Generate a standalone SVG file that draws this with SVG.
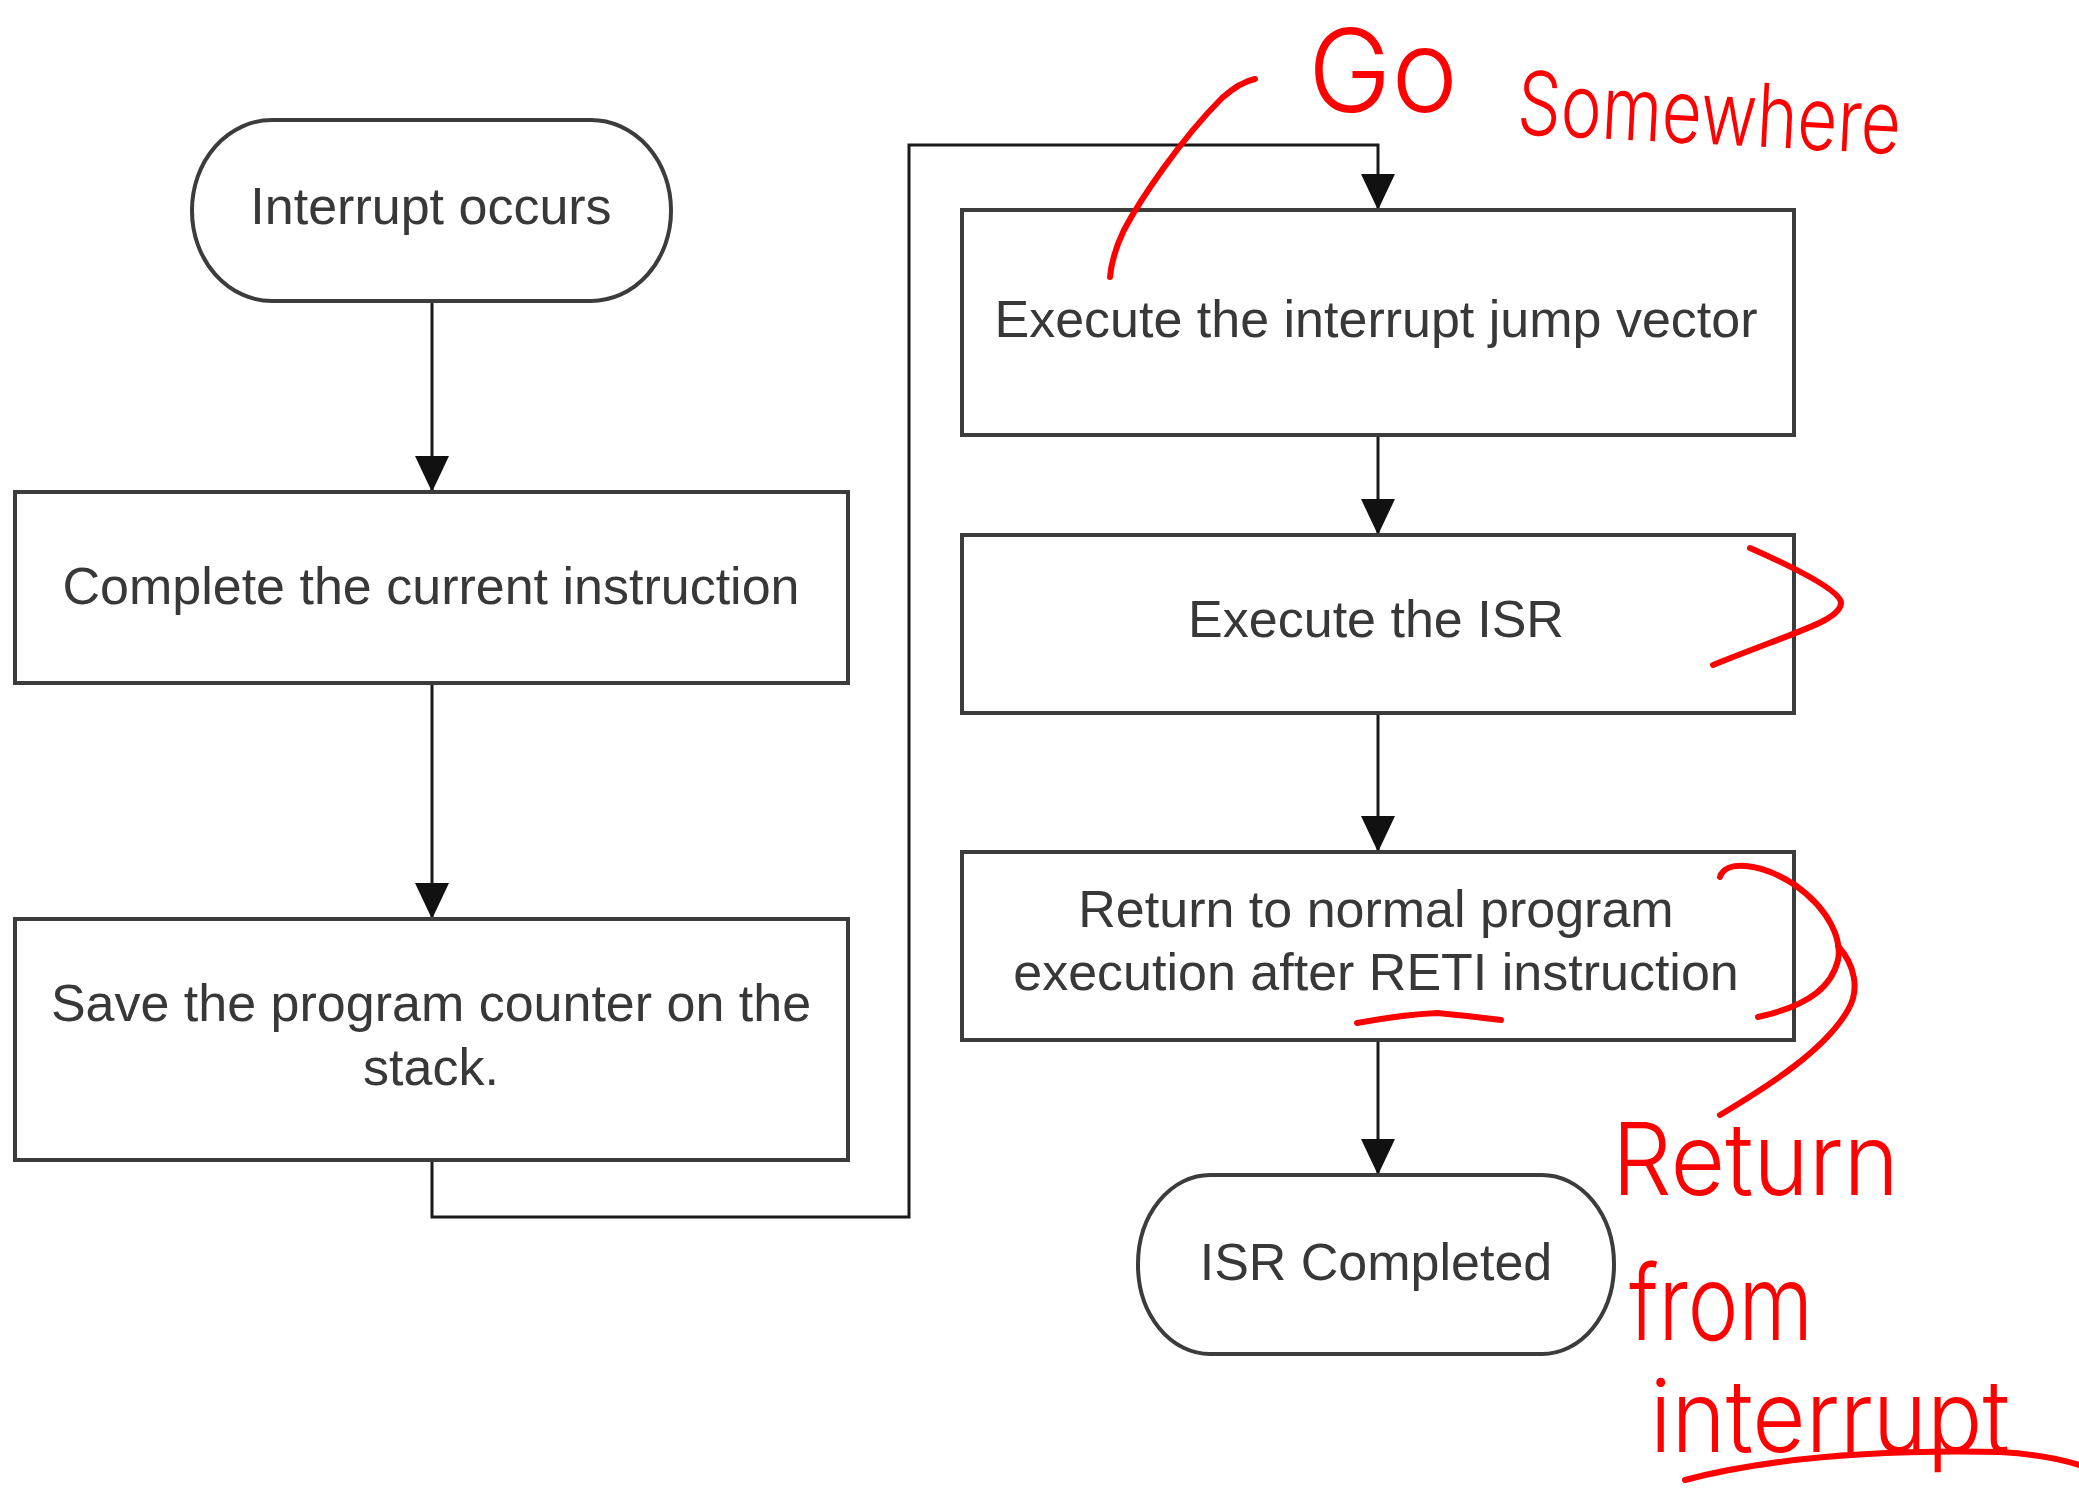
<svg xmlns="http://www.w3.org/2000/svg" width="2079" height="1506" viewBox="0 0 2079 1506">
<style>
.box{fill:#fff;stroke:#3c3c3c;stroke-width:4}
.lbl{font-family:"Liberation Sans",Arial,sans-serif;font-size:52px;fill:#383838;text-anchor:middle}
.con{fill:none;stroke:#1a1a1a;stroke-width:3}
.ink{fill:none;stroke:#f00;stroke-width:6;stroke-linecap:round;stroke-linejoin:round}
.hand{font-family:Inter,"Open Sans","Liberation Sans",sans-serif;font-weight:300;fill:#f00}
</style>
<defs>
<marker id="ah" markerUnits="userSpaceOnUse" markerWidth="36" markerHeight="34" viewBox="0 0 36 34" refX="36" refY="17" orient="auto">
<path d="M0,0 L36,17 L0,34 z" fill="#111"/>
</marker>
</defs>
<rect width="2079" height="1506" fill="#fff"/>
<g id="connectors">
<path class="con" d="M432,301 V492" marker-end="url(#ah)"/>
<path class="con" d="M432,683 V919" marker-end="url(#ah)"/>
<path class="con" d="M432,1160 V1217 H909 V145 H1378 V210" marker-end="url(#ah)"/>
<path class="con" d="M1378,435 V535" marker-end="url(#ah)"/>
<path class="con" d="M1378,713 V852" marker-end="url(#ah)"/>
<path class="con" d="M1378,1040 V1175" marker-end="url(#ah)"/>
</g>
<g id="interrupt-occurs">
<rect class="box" x="192" y="120" width="479" height="181" rx="80" ry="90"/>
<text class="lbl" x="431" y="224">Interrupt occurs</text>
</g>
<g id="complete-instruction">
<rect class="box" x="15" y="492" width="833" height="191"/>
<text class="lbl" x="431" y="604">Complete the current instruction</text>
</g>
<g id="save-pc">
<rect class="box" x="15" y="919" width="833" height="241"/>
<text class="lbl" x="431" y="1021">Save the program counter on the</text>
<text class="lbl" x="431" y="1085">stack.</text>
</g>
<g id="jump-vector">
<rect class="box" x="962" y="210" width="832" height="225"/>
<text class="lbl" x="1376" y="337">Execute the interrupt jump vector</text>
</g>
<g id="execute-isr">
<rect class="box" x="962" y="535" width="832" height="178"/>
<text class="lbl" x="1376" y="637">Execute the ISR</text>
</g>
<g id="return-normal">
<rect class="box" x="962" y="852" width="832" height="188"/>
<text class="lbl" x="1376" y="927">Return to normal program</text>
<text class="lbl" x="1376" y="990">execution after RETI instruction</text>
</g>
<g id="isr-completed">
<rect class="box" x="1138" y="1175" width="476" height="179" rx="72" ry="89"/>
<text class="lbl" x="1376" y="1280">ISR Completed</text>
</g>
<g id="annotations">
<path class="ink" d="M1255,79 Q1240,82 1222,98 C1180,140 1140,200 1124,230 Q1112,255 1110,277"/>
<path class="ink" d="M1750,548 C1800,570 1838,590 1841,602 C1842,620 1800,630 1713,665"/>
<path class="ink" d="M1720,877 C1725,860 1760,862 1795,885 C1830,910 1842,940 1838,960 C1832,985 1812,1005 1758,1017"/>
<path class="ink" d="M1838,946 C1855,965 1860,990 1848,1010 C1825,1050 1770,1085 1720,1115"/>
<path class="ink" d="M1357,1023 Q1400,1015 1437,1013 Q1470,1016 1501,1020"/>
<path class="ink" d="M1685,1480 C1780,1455 1900,1450 2000,1452 Q2050,1455 2079,1465"/>
<text class="hand" x="1308" y="112" font-size="115" textLength="150" lengthAdjust="spacingAndGlyphs">Go</text>
<text class="hand" x="1516" y="134" font-size="88" textLength="384" lengthAdjust="spacingAndGlyphs" transform="rotate(3 1516 134)">Somewhere</text>
<text class="hand" x="1612" y="1195" font-size="100" textLength="287" lengthAdjust="spacingAndGlyphs">Return</text>
<text class="hand" x="1629" y="1340" font-size="105" textLength="184" lengthAdjust="spacingAndGlyphs">from</text>
<text class="hand" x="1650" y="1452" font-size="100" textLength="360" lengthAdjust="spacingAndGlyphs">interrupt</text>
</g>
</svg>
